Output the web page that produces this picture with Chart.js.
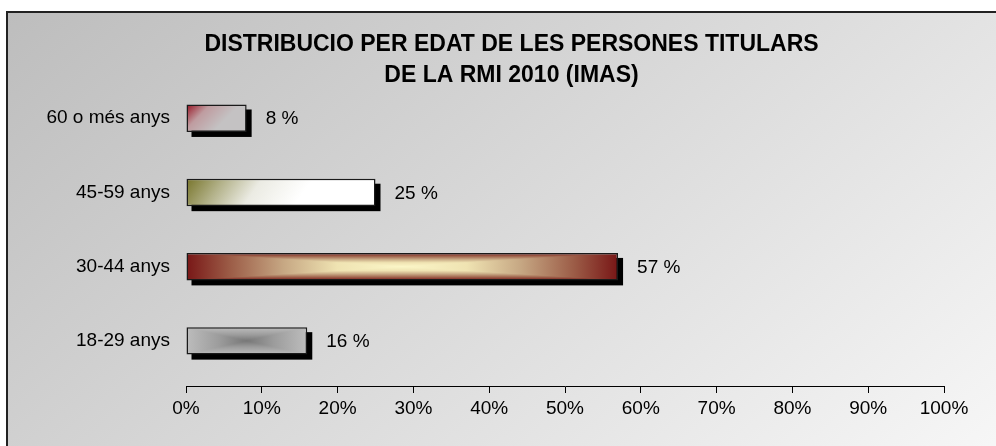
<!DOCTYPE html>
<html>
<head>
<meta charset="utf-8">
<script src="https://cdn.jsdelivr.net/npm/chart.js@4.4.1/dist/chart.umd.min.js"></script>
<style>
  body { margin: 0; overflow: hidden; background: #fff; }
  #caixa { width: 1016px; height: 446px; }
</style>
</head>
<body>
<div id="caixa"><canvas id="grafic" width="1016" height="446"></canvas></div>
<script>
// dades llegides del gràfic
const categories = ['60 o més anys', '45-59 anys', '30-44 anys', '18-29 anys'];
const percentatges = [8, 25, 57, 16];
const titol = ['DISTRIBUCIO PER EDAT DE LES PERSONES TITULARS', 'DE LA RMI 2010 (IMAS)'];
const ticksX = [0, 10, 20, 30, 40, 50, 60, 70, 80, 90, 100];

const FONT = '"Liberation Sans", Arial, sans-serif';
const BAR_PCT = 0.37;

// gradient rectangular "des del centre" (4 triangles)
function gradientCentre(g, w, h, parades) {
  const cx = w / 2, cy = h / 2;
  const base = g.createLinearGradient(0, 0, w, 0);
  parades.forEach(([t, c]) => { base.addColorStop(0.5 - t / 2, c); base.addColorStop(0.5 + t / 2, c); });
  g.fillStyle = base;
  g.fillRect(0, 0, w, h);
  const tris = [
    [[0, 0], [w, 0], cx, 0],
    [[0, h], [w, h], cx, h],
    [[0, 0], [0, h], 0, cy],
    [[w, 0], [w, h], w, cy]
  ];
  tris.forEach(([a, b, ex, ey]) => {
    const gr = g.createLinearGradient(cx, cy, ex, ey);
    parades.forEach(([t, c]) => gr.addColorStop(t, c));
    g.beginPath();
    g.moveTo(a[0], a[1]); g.lineTo(b[0], b[1]); g.lineTo(cx, cy); g.closePath();
    g.fillStyle = gr;
    g.fill();
  });
}

function pintaFons(g, w, h, i) {
  if (i === 0) {
    const gr = g.createLinearGradient(0, 0, w * 0.45, h * 1.0);
    gr.addColorStop(0, '#961020');
    gr.addColorStop(0.45, '#bf9ca0');
    gr.addColorStop(1, '#c4c2c3');
    g.fillStyle = gr; g.fillRect(0, 0, w, h);
  } else if (i === 1) {
    const gr = g.createLinearGradient(0, 0, w * 0.45, h * 2.2);
    gr.addColorStop(0, '#77742a');
    gr.addColorStop(0.3, '#b3b28a');
    gr.addColorStop(0.6, '#ebebe3');
    gr.addColorStop(1, '#ffffff');
    g.fillStyle = gr; g.fillRect(0, 0, w, h);
  } else if (i === 2) {
    gradientCentre(g, w, h, [[0, '#fbf6c8'], [0.3, '#efe3b2'], [0.55, '#c6a783'], [0.8, '#9b5b46'], [1, '#781616']]);
  } else {
    gradientCentre(g, w, h, [[0, '#777777'], [0.45, '#9c9c9c'], [1, '#bdbdbd']]);
  }
}

function colorBarra(ctx) {
  const chart = ctx.chart;
  const i = ctx.dataIndex;
  const xs = chart.scales.x, ys = chart.scales.y;
  if (!chart.chartArea || !xs || !ys || i === undefined) return '#cccccc';
  const x0 = xs.getPixelForValue(0);
  const x1 = xs.getPixelForValue(percentatges[i]);
  const banda = Math.abs(ys.getPixelForValue(1) - ys.getPixelForValue(0));
  const h = Math.max(1, Math.round(banda * BAR_PCT));
  const w = Math.max(1, Math.round(x1 - x0));
  const top = ys.getPixelForValue(i) - h / 2;
  const off = document.createElement('canvas');
  off.width = w; off.height = h;
  pintaFons(off.getContext('2d'), w, h, i);
  const pat = chart.ctx.createPattern(off, 'no-repeat');
  pat.setTransform(new DOMMatrix().translate(x0, top));
  return pat;
}

// fons degradat i vora del gràfic
const fons = {
  id: 'fons',
  beforeDraw(chart) {
    const c = chart.ctx, W = chart.width, H = chart.height;
    c.save();
    c.fillStyle = '#ffffff';
    c.fillRect(0, 0, W, H);
    const gr = c.createLinearGradient(7, 12, 655, 759);
    gr.addColorStop(0, '#bdbdbd');
    gr.addColorStop(1, '#f7f7f7');
    c.fillStyle = gr;
    c.fillRect(7, 12, W - 7, H - 12);
    c.strokeStyle = '#222222';
    c.lineWidth = 2;
    c.beginPath();
    c.moveTo(7, H + 5); c.lineTo(7, 12); c.lineTo(W + 5, 12);
    c.stroke();
    c.restore();
  }
};

// ombra negra darrere de cada barra
const ombra = {
  id: 'ombra',
  beforeDatasetsDraw(chart) {
    const c = chart.ctx;
    c.save();
    c.fillStyle = '#000000';
    chart.getDatasetMeta(0).data.forEach(el => {
      const p = el.getProps(['x', 'y', 'base', 'height'], true);
      c.fillRect(p.base + 5, p.y - p.height / 2 + 5, p.x - p.base, p.height);
    });
    c.restore();
  }
};

// etiquetes de valor
const etiquetes = {
  id: 'etiquetes',
  afterDatasetsDraw(chart) {
    const c = chart.ctx;
    c.save();
    c.font = '19px ' + FONT;
    c.fillStyle = '#000000';
    c.textAlign = 'left';
    c.textBaseline = 'middle';
    chart.getDatasetMeta(0).data.forEach((el, i) => {
      c.fillText(percentatges[i] + ' %', el.x + 19, el.y + 1);
    });
    c.restore();
  }
};

new Chart(document.getElementById('grafic'), {
  type: 'bar',
  data: {
    labels: categories,
    datasets: [{
      data: percentatges,
      backgroundColor: colorBarra,
      borderColor: '#1a1a1a',
      borderWidth: 1.5,
      borderSkipped: false,
      barPercentage: BAR_PCT,
      categoryPercentage: 1
    }]
  },
  options: {
    indexAxis: 'y',
    responsive: false,
    animation: false,
    layout: { padding: { left: 7, top: 29, right: 0, bottom: 68 } },
    plugins: {
      legend: { display: false },
      tooltip: { enabled: false },
      title: {
        display: true,
        text: titol,
        color: '#000000',
        font: { family: FONT, size: 23, weight: 'bold', lineHeight: 1.35 },
        padding: { top: 0, bottom: -10 }
      }
    },
    scales: {
      x: {
        type: 'linear',
        position: { y: 3.62 },
        min: 0,
        max: 100,
        afterFit(s) { s.height = 0; },
        afterBuildTicks(s) { s.ticks = ticksX.map(v => ({ value: v })); },
        ticks: {
          color: '#000000',
          font: { family: FONT, size: 19 },
          padding: 4,
          maxRotation: 0,
          callback: v => v + '%'
        },
        grid: { display: true, drawOnChartArea: false, drawTicks: true, tickLength: 6, color: '#000000' },
        border: { display: true, color: '#000000', width: 1 }
      },
      y: {
        type: 'category',
        afterFit(s) { s.width = 179; },
        ticks: { color: '#000000', font: { family: FONT, size: 19 }, padding: 16 },
        grid: { display: false, drawTicks: false },
        border: { display: false }
      },
      marge: {
        type: 'linear',
        position: 'right',
        display: true,
        afterFit(s) { s.width = 72; },
        ticks: { display: false },
        grid: { display: false, drawTicks: false },
        border: { display: false }
      }
    }
  },
  plugins: [fons, ombra, etiquetes]
});
</script>
</body>
</html>
